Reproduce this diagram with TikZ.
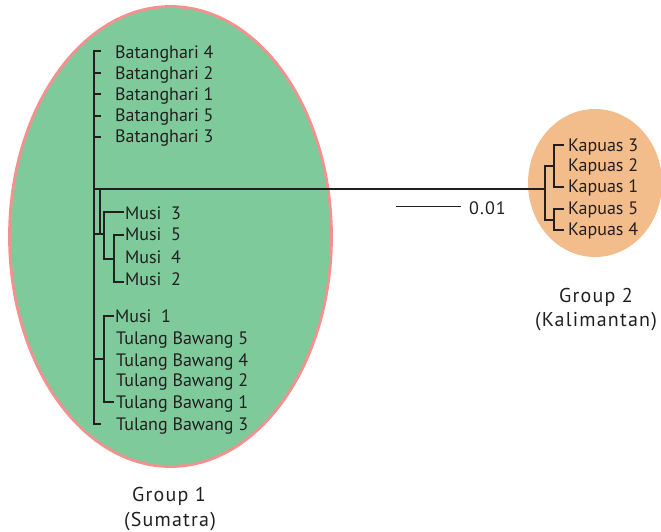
\documentclass[tikz,border=0pt]{standalone}
\usepackage{fontspec}
\setmainfont{PT Sans}
\newfontfamily\grpfont[LetterSpace=6]{PT Sans}
\newfontfamily\numfont[LetterSpace=6]{PT Sans}
\usetikzlibrary{shapes.geometric}
\definecolor{grpgreen}{HTML}{7FCA9B}
\definecolor{grporange}{HTML}{F3BD8B}
\definecolor{grppink}{HTML}{F4908E}
\definecolor{ink}{HTML}{231F20}
\begin{document}
\begin{tikzpicture}[x=1pt,y=-1pt,
  leaf/.style={anchor=base west, inner sep=0pt, font=\fontsize{18}{20}\selectfont, text=ink},
  grp/.style={anchor=base, inner sep=0pt, font=\grpfont\fontsize{20}{22}\selectfont, text=ink},
  br/.style={draw=ink, line width=2pt, line cap=rect},
  blob/.style={ellipse, inner sep=0pt}]
\useasboundingbox (0,0) rectangle (661,531);
% group ellipses
\node[blob, fill=grpgreen, draw=grppink, line width=2.8pt, minimum width=322pt, minimum height=460pt] (g1) at (170.5,236.5) {};
\node[blob, fill=grporange, minimum width=134pt, minimum height=148pt] (g2) at (595,183) {};
% leaf labels
\node[leaf] (b4) at (115,58.3) {Batanghari 4};
\node[leaf] (b2) at (115,79.3) {Batanghari 2};
\node[leaf] (b1) at (115,100.3) {Batanghari 1};
\node[leaf] (b5) at (115,121.7) {Batanghari 5};
\node[leaf] (b3) at (115,142.7) {Batanghari 3};
\node[leaf] (m3) at (125,219) {Musi~~3};
\node[leaf] (m5) at (125,240.7) {Musi~~5};
\node[leaf] (m4) at (125,263.3) {Musi~~4};
\node[leaf] (m2) at (125,285) {Musi~~2};
\node[leaf] (m1) at (115,322.3) {Musi~~1};
\node[leaf] (t5) at (116,344) {Tulang Bawang 5};
\node[leaf] (t4) at (116,366) {Tulang Bawang 4};
\node[leaf] (t2) at (116,386.7) {Tulang Bawang 2};
\node[leaf] (t1) at (116,408.3) {Tulang Bawang 1};
\node[leaf] (t3) at (116,430) {Tulang Bawang 3};
\node[leaf] (k3) at (568,151.7) {Kapuas 3};
\node[leaf] (k2) at (568,171.7) {Kapuas 2};
\node[leaf] (k1) at (568,192.7) {Kapuas 1};
\node[leaf] (k5) at (568,214.3) {Kapuas 5};
\node[leaf] (k4) at (568,235) {Kapuas 4};
\node[leaf, font=\numfont\fontsize{18}{20}\selectfont] (sc) at (469,214) {0.01};
% group names
\node[grp] (g1a) at (169,501) {Group 1};
\node[grp] (g1b) at (170,526) {(Sumatra)};
\node[grp] (g2a) at (596,302) {Group 2};
\node[grp] (g2b) at (596,326) {(Kalimantan)};
% tree coordinates
\coordinate (top) at (94.3,51);
\coordinate (bot) at (94.3,424);
\coordinate (root) at (94.3,188.7);
\coordinate (kroot) at (545,188.7);
\foreach \n/\y in {tb4/51,tb2/72.5,tb1/93.5,tb5/115.5,tb3/137,ttb3/424}{
  \coordinate (\n a) at (94.3,\y);
  \coordinate (\n b) at (100,\y);
}
\coordinate (inA) at (99.8,188.7);
\coordinate (inB) at (99.8,234.3);
\coordinate (mA) at (94.3,234.3);
\coordinate (mB) at (104.3,234.3);
\coordinate (m3a) at (104.3,212);
\coordinate (m3b) at (123,212);
\coordinate (mC) at (104.3,259);
\coordinate (mD) at (114,259);
\coordinate (m5a) at (114,235);
\coordinate (m5b) at (123,235);
\coordinate (m2a) at (114,281.5);
\coordinate (m2b) at (123,281.5);
\coordinate (tA) at (94.3,359);
\coordinate (tB) at (104.3,359);
\coordinate (m1a) at (104.3,316);
\coordinate (m1b) at (113,316);
\coordinate (t1a) at (104.3,401.5);
\coordinate (t1b) at (113,401.5);
\coordinate (kA) at (545,166);
\coordinate (kB) at (545,219.5);
\coordinate (kC) at (554,166);
\coordinate (kD) at (554,219.5);
\coordinate (k3a) at (554,144.5);
\coordinate (k3b) at (563.3,144.5);
\coordinate (k1a) at (554,187);
\coordinate (k1b) at (563.3,187);
\coordinate (k5a) at (554,208.5);
\coordinate (k5b) at (563.3,208.5);
\coordinate (k4a) at (554,230);
\coordinate (k4b) at (563.3,230);
\coordinate (sbA) at (396,206.7);
\coordinate (sbB) at (461,206.7);
% branches
\draw[br] (top) -- (bot);
\foreach \n in {tb4,tb2,tb1,tb5,tb3,ttb3}{\draw[br] (\n a) -- (\n b);}
\draw[br] (root) -- (kroot);
\draw[br] (inA) -- (inB);
\draw[br] (mA) -- (mB);
\draw[br] (m3b) -- (m3a) -- (mC) -- (mD);
\draw[br] (m5b) -- (m5a) -- (m2a) -- (m2b);
\draw[br] (tA) -- (tB);
\draw[br] (m1b) -- (m1a) -- (t1a) -- (t1b);
\draw[br] (kA) -- (kB);
\draw[br] (kA) -- (kC);
\draw[br] (kB) -- (kD);
\draw[br] (k3b) -- (k3a) -- (k1a) -- (k1b);
\draw[br] (k5b) -- (k5a) -- (k4a) -- (k4b);
\draw[draw=ink, line width=1pt] (sbA) -- (sbB);
\end{tikzpicture}
\end{document}
